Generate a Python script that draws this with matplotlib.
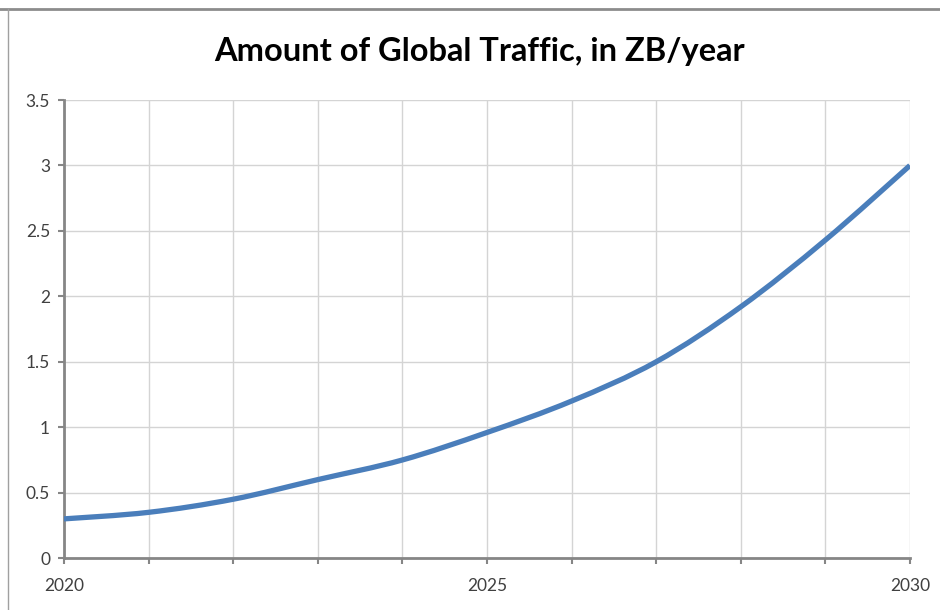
import matplotlib
matplotlib.use("Agg")
import matplotlib.pyplot as plt
from matplotlib.lines import Line2D
from matplotlib.path import Path
from matplotlib.patches import PathPatch
from matplotlib.ticker import FormatStrFormatter, FuncFormatter

# data
years = [2020, 2021, 2022, 2023, 2024, 2025, 2026, 2027, 2028, 2029, 2030]
traffic_zb = [0.30, 0.35, 0.45, 0.60, 0.75, 0.96, 1.20, 1.50, 1.92, 2.43, 3.00]
y_ticks = [0, 0.5, 1, 1.5, 2, 2.5, 3, 3.5]
x_labelled = [2020, 2025, 2030]

plt.rcParams['font.family'] = ['Lato', 'DejaVu Sans']


def smooth_path(xs, ys):
    # excel style "smoothed line": cubic bezier segments through every point
    pts = list(zip(xs, ys))
    verts = [pts[0]]
    codes = [Path.MOVETO]
    n = len(pts)
    for i in range(n - 1):
        p0 = pts[max(i - 1, 0)]
        p1 = pts[i]
        p2 = pts[i + 1]
        p3 = pts[min(i + 2, n - 1)]
        c1 = (p1[0] + (p2[0] - p0[0]) / 6, p1[1] + (p2[1] - p0[1]) / 6)
        c2 = (p2[0] - (p3[0] - p1[0]) / 6, p2[1] - (p3[1] - p1[1]) / 6)
        verts += [c1, c2, p2]
        codes += [Path.CURVE4] * 3
    return Path(verts, codes)


fig = plt.figure(figsize=(9.4, 6.1), dpi=100)
ax = fig.add_axes([0.068, 0.085, 0.9, 0.751])

ax.add_patch(PathPatch(smooth_path(years, traffic_zb), facecolor='none',
                       edgecolor='#4a7ebb', linewidth=3.8, capstyle='butt', zorder=3))

ax.set_xlim(2020, 2030)
ax.set_ylim(0, 3.5)
ax.set_xticks(years)
ax.set_yticks(y_ticks)
ax.xaxis.set_major_formatter(FuncFormatter(lambda v, p: str(int(v)) if int(round(v)) in x_labelled else ''))
ax.yaxis.set_major_formatter(FormatStrFormatter('%g'))

ax.grid(True, color='#d4d4d4', linewidth=1.0)
ax.set_axisbelow(True)

for s in ['top', 'right']:
    ax.spines[s].set_visible(False)
for s in ['left', 'bottom']:
    ax.spines[s].set_color('#868686')
    ax.spines[s].set_linewidth(2.0)

ax.tick_params(axis='both', colors='#868686', length=4, width=1.5, labelsize=12.5,
               labelcolor='#404040')
ax.tick_params(axis='x', pad=10)
ax.tick_params(axis='y', pad=6)

fig.text(0.51, 0.915, 'Amount of Global Traffic, in ZB/year', ha='center', va='center',
         fontsize=23.5, fontweight='bold', color='#000000')

# outer frame lines (top and left) as in the screenshot
fig.add_artist(Line2D([0, 1], [0.985, 0.985], transform=fig.transFigure,
                      color='#8c8c8c', linewidth=2.0))
fig.add_artist(Line2D([0.009, 0.009], [0, 0.985], transform=fig.transFigure,
                      color='#a0a0a0', linewidth=1.0))

fig.savefig('out.png', dpi=100)
